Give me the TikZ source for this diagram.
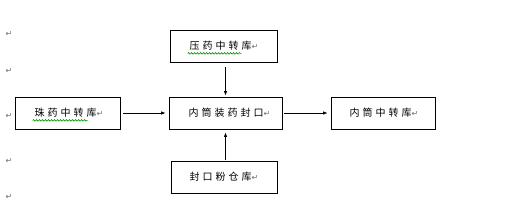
\documentclass[tikz,border=0pt]{standalone}
\usepackage{fontspec}
\newfontfamily\cjk[LetterSpace=30]{Noto Sans CJK SC}
\newfontfamily\markfont{DejaVu Sans}
\definecolor{MarkGray}{RGB}{110,110,110}
\definecolor{SpellGreen}{RGB}{0,150,0}
\usetikzlibrary{arrows.meta, decorations.pathmorphing}
\newcommand{\pmark}{{\markfont\color{MarkGray}\fontsize{8}{9}\selectfont ↵}}

\tikzset{
	storebox/.style={draw, line width=0.8pt, minimum height=32pt, inner sep=0pt,
		font=\cjk\fontsize{10}{12}\selectfont},
	flow/.style={draw, line width=0.8pt, -{Latex[length=4.5pt,width=3.5pt]}},
	squiggle/.style={draw=SpellGreen, line width=0.6pt, decorate,
		decoration={snake, amplitude=0.8pt, segment length=3pt}}
}

\begin{document}
\begin{tikzpicture}[x=1pt, y=-1pt]
	\useasboundingbox (0,0) rectangle (505,213);
	% paragraph marks down the left margin
	\foreach \y [count=\i] in {34,71,116,161,197}
		{\node[inner sep=0pt] (pm\i) at (9,\y) {\pmark};}
	% stores and the filling station
	\node[storebox, minimum width=107pt] (yaku) at (223.5,46) {\hspace*{1pt}压药中转库\pmark};
	\node[storebox, minimum width=105pt] (zhuku) at (67.5,113) {\hspace*{3pt}珠药中转库\pmark};
	\node[storebox, minimum width=113pt] (fengkou) at (225.5,113) {\hspace*{8pt}内筒装药封口\pmark};
	\node[storebox, minimum width=104pt] (neiku) at (383,113) {\hspace*{2pt}内筒中转库\pmark};
	\node[storebox, minimum width=106pt] (fenku) at (224,177) {封口粉仓库\pmark};
	% spell check marks
	\draw[squiggle] ([shift={(18,-9)}]yaku.south west) -- ++(54,0);
	\draw[squiggle] ([shift={(18,-9)}]zhuku.south west) -- ++(55,0);
	% flows
	\draw[flow, shorten <=5pt, shorten >=1pt] (yaku.south -| fengkou.north) -- (fengkou.north);
	\draw[flow, shorten <=3pt, shorten >=3pt] (zhuku) -- (fengkou);
	\draw[flow, shorten <=2pt, shorten >=3pt] (fengkou) -- (neiku);
	\draw[flow, shorten <=1pt, shorten >=3pt] (fenku.north -| fengkou.south) -- (fengkou.south);
\end{tikzpicture}
\end{document}
